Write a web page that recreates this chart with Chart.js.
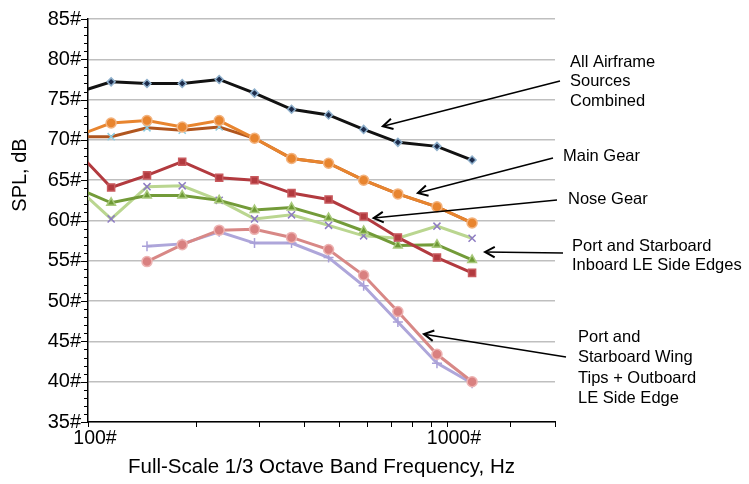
<!DOCTYPE html>
<html><head><meta charset="utf-8">
<script src="https://cdn.jsdelivr.net/npm/chart.js@4.4.1/dist/chart.umd.min.js"></script>
<style>html,body{margin:0;padding:0;background:#fff;}#wrap{width:749px;height:484px;position:relative;background:#fff}</style>
</head><body><div id="wrap"><canvas id="c" width="749" height="484"></canvas></div>
<script>
// ---- data ----
const freqs = [92, 116, 146, 183, 232, 291, 369, 468, 586, 730, 938, 1175];
const allAirframe = [75.8, 77.2, 77.0, 77.0, 77.5, 75.8, 73.8, 73.1, 71.3, 69.7, 69.2, 67.5];
const mainGear    = [70.4, 72.1, 72.4, 71.6, 72.4, 70.2, 67.7, 67.1, 65.0, 63.3, 61.7, 59.7];
const mainGear2   = [70.4, 70.4, 71.5, 71.2, 71.6, 70.2, 67.7, 67.1, 65.0, 63.3, 61.7, 59.7];
const noseGear    = [68.8, 64.1, 65.6, 67.3, 65.3, 65.0, 63.4, 62.6, 60.5, 57.9, 55.4, 53.5];
const inboardA    = [64.1, 62.2, 63.1, 63.1, 62.5, 61.3, 61.6, 60.3, 58.7, 56.9, 57.0, 55.1];
const inboardB    = [64.3, 60.2, 64.2, 64.3, 62.5, 60.2, 60.7, 59.4, 58.1, 57.8, 59.3, 57.8];
const wingTipsA   = [null, null, 54.9, 57.0, 58.8, 58.9, 57.9, 56.4, 53.2, 48.7, 43.4, 40.0];
const wingTipsB   = [null, null, 56.8, 57.1, 58.6, 57.2, 57.2, 55.4, 51.9, 47.4, 42.3, 39.8];
const yTickValues = [35, 40, 45, 50, 55, 60, 65, 70, 75, 80, 85];
const xTickLabels = {100: '100#', 1000: '1000#'};
const xTitle = 'Full-Scale 1/3 Octave Band Frequency, Hz';
const yTitle = 'SPL, dB';
const notes = [
  {lines: ['All Airframe', 'Sources', 'Combined'], head: [663, 71.7]},
  {lines: ['Main Gear'], head: [830, 63.4]},
  {lines: ['Nose Gear'], head: [625, 60.3]},
  {lines: ['Port and Starboard', 'Inboard LE Side Edges'], head: [1277, 56.1]},
  {lines: ['Port and', 'Starboard Wing', 'Tips + Outboard', 'LE Side Edge'], head: [863, 45.9]}
];
// layout of annotation text / arrow tails (pixels)
const noteLayout = [
  {tx: 570, ty: 62, lh: 19.7, tail: [560, 81]},
  {tx: 563, ty: 156, lh: 20, tail: [553, 158]},
  {tx: 568, ty: 199, lh: 20, tail: [557, 200]},
  {tx: 572, ty: 246, lh: 19.5, tail: [563, 253]},
  {tx: 578, ty: 337, lh: 20.5, tail: [566, 357]}
];

const FONT = '"Liberation Sans", Arial, sans-serif';
const pts = arr => freqs.map((f, i) => ({x: f, y: arr[i]}));

function ds(label, arr, line, style, fill, border, radius, order) {
  return {
    label, data: pts(arr), borderColor: line, borderWidth: 3,
    pointStyle: style, pointBackgroundColor: fill, pointBorderColor: border,
    pointBorderWidth: 1.5, pointRadius: radius, tension: 0, order
  };
}

const datasets = [
  ds('All Airframe Sources Combined', allAirframe, '#121212', 'rectRot', '#1c2b4a', '#8fb0cc', 4, 1),
  ds('Main Gear', mainGear, '#E8852F', 'circle', '#E8852F', '#F3B37E', 5, 2),
  ds('Main Gear (2)', mainGear2, '#B0561F', 'crossRot', '#8CCBE0', '#8CCBE0', 5, 3),
  ds('Nose Gear', noseGear, '#B23A3F', 'rect', '#B23A3F', '#C85A5E', 5, 4),
  ds('Inboard LE Side Edges A', inboardA, '#739B39', 'triangle', '#6E9A35', '#A9C97C', 5, 5),
  ds('Inboard LE Side Edges B', inboardB, '#BAD690', 'crossRot', '#8E7CC3', '#8E7CC3', 5, 6),
  ds('Wing Tips A', wingTipsA, '#D88886', 'circle', '#D98080', '#EDB3B2', 5, 7),
  ds('Wing Tips B', wingTipsB, '#AEA6DA', 'cross', '#A9A0D8', '#A9A0D8', 5, 8)
];

const decor = {
  id: 'decor',
  afterDraw(chart) {
    const ctx = chart.ctx, xs = chart.scales.x, ys = chart.scales.y, ca = chart.chartArea;
    ctx.save();
    ctx.strokeStyle = '#000'; ctx.lineWidth = 1;
    // y ticks (minor every 1 dB, major every 5)
    ys.ticks.forEach(t => {
      const y = Math.round(ys.getPixelForValue(t.value)) + 0.5;
      const len = (t.value % 5 === 0) ? 7 : 4;
      ctx.beginPath(); ctx.moveTo(ca.left - len, y); ctx.lineTo(ca.left, y); ctx.stroke();
    });
    // x ticks
    xs.ticks.forEach(t => {
      const x = Math.round(xs.getPixelForValue(t.value)) + 0.5;
      ctx.beginPath(); ctx.moveTo(x, ca.bottom); ctx.lineTo(x, ca.bottom + 5); ctx.stroke();
    });
    // y title
    ctx.save();
    ctx.translate(20, 175); ctx.rotate(-Math.PI / 2);
    ctx.font = '20px ' + FONT; ctx.fillStyle = '#000';
    ctx.textAlign = 'center'; ctx.textBaseline = 'middle';
    ctx.fillText(yTitle, 0, 0);
    ctx.restore();
    // annotations
    ctx.font = '16.5px ' + FONT; ctx.fillStyle = '#000';
    ctx.textAlign = 'left'; ctx.textBaseline = 'middle';
    notes.forEach((n, i) => {
      const L = noteLayout[i];
      n.lines.forEach((s, k) => ctx.fillText(s, L.tx, L.ty + k * L.lh));
      const hx = xs.getPixelForValue(n.head[0]), hy = ys.getPixelForValue(n.head[1]);
      const [tx, ty] = L.tail;
      ctx.lineWidth = 1.5; ctx.strokeStyle = '#000';
      ctx.beginPath(); ctx.moveTo(tx, ty); ctx.lineTo(hx, hy); ctx.stroke();
      const a = Math.atan2(hy - ty, hx - tx), len = 11, phi = 0.5;
      ctx.beginPath();
      ctx.moveTo(hx - len * Math.cos(a - phi), hy - len * Math.sin(a - phi));
      ctx.lineTo(hx, hy);
      ctx.lineTo(hx - len * Math.cos(a + phi), hy - len * Math.sin(a + phi));
      ctx.lineWidth = 2; ctx.stroke();
    });
    ctx.restore();
  }
};

new Chart(document.getElementById('c'), {
  type: 'line',
  data: {datasets},
  plugins: [decor],
  options: {
    responsive: false, animation: false, devicePixelRatio: 1,
    layout: {padding: {top: 14, right: 194, left: 0, bottom: 0}},
    plugins: {legend: {display: false}, tooltip: {enabled: false}},
    scales: {
      x: {
        type: 'logarithmic', min: 100, max: 2000,
        afterFit: s => { s.height = 62; },
        border: {display: true, color: '#000', width: 1.5},
        grid: {display: true, drawOnChartArea: false, drawTicks: false},
        ticks: {
          autoSkip: false, maxRotation: 0, padding: 5, labelOffset: 7, color: '#000',
          font: {family: FONT, size: 19.5},
          callback: v => xTickLabels[v] || ''
        },
        title: {display: true, text: xTitle, color: '#000', font: {family: FONT, size: 20.5}, padding: {top: 0, bottom: 4}}
      },
      y: {
        min: 35, max: 85,
        afterFit: s => { s.width = 88; },
        border: {display: true, color: '#000', width: 1.5},
        grid: {
          drawTicks: false, lineWidth: 1.5,
          color: c => (c.tick && yTickValues.includes(c.tick.value)) ? '#bfbfbf' : 'rgba(0,0,0,0)'
        },
        ticks: {
          stepSize: 1, autoSkip: false, padding: 7, color: '#000',
          font: {family: FONT, size: 20},
          callback: v => yTickValues.includes(v) ? v + '#' : ''
        }
      }
    }
  }
});
</script>
</body></html>
